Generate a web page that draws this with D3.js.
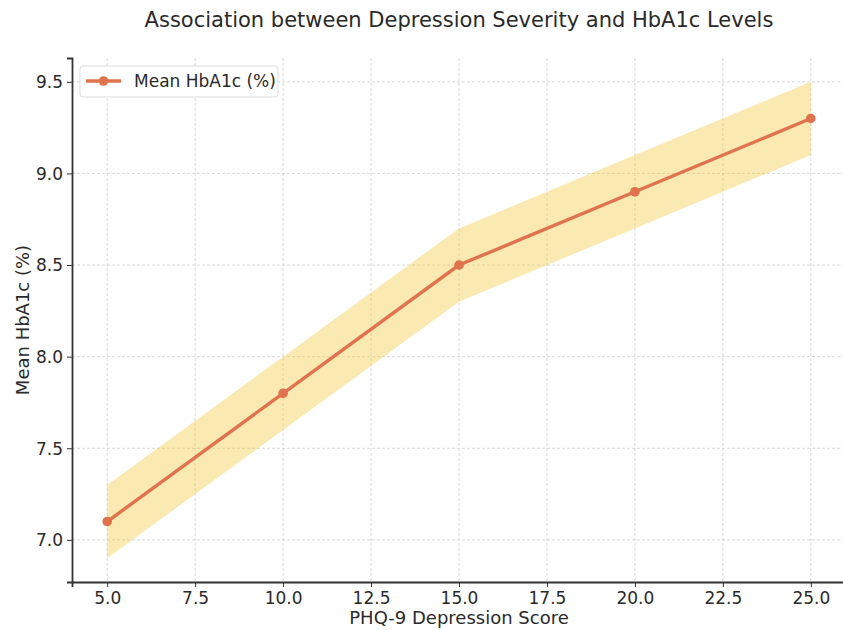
<!DOCTYPE html>
<html><head><meta charset="utf-8">
<script src="https://cdn.jsdelivr.net/npm/d3@7"></script>
<style>body{margin:0;background:#fff;} text{font-family:"DejaVu Sans",sans-serif;}</style>
</head><body>
<svg id="c" width="843" height="630"></svg>
<script>
const scores = [5, 10, 15, 20, 25];
const meanHbA1c = [7.1, 7.8, 8.5, 8.9, 9.3];
const lower = [6.9, 7.6, 8.3, 8.7, 9.1];
const upper = [7.3, 8.0, 8.7, 9.1, 9.5];
const xTicks = [5, 7.5, 10, 12.5, 15, 17.5, 20, 22.5, 25];
const yTicks = [7.0, 7.5, 8.0, 8.5, 9.0, 9.5];
const seriesName = "Mean HbA1c (%)";

const svg = d3.select("#c");
const m = {l:72, r:846, t:58, b:582};
const x = d3.scaleLinear().domain([4, 26]).range([m.l, m.r]);
const y = d3.scaleLinear().domain([6.77, 9.63]).range([m.b, m.t]);
const data = scores.map((s,i)=>({s, v:meanHbA1c[i], lo:lower[i], hi:upper[i]}));

// grid
const g = svg.append("g");
xTicks.forEach(t=>g.append("line").attr("x1",x(t)).attr("x2",x(t)).attr("y1",m.t).attr("y2",m.b)
  .attr("stroke","#cfcfcf").attr("stroke-width",0.8).attr("stroke-dasharray","3,2"));
yTicks.forEach(t=>g.append("line").attr("x1",m.l).attr("x2",m.r).attr("y1",y(t)).attr("y2",y(t))
  .attr("stroke","#cfcfcf").attr("stroke-width",0.8).attr("stroke-dasharray","3,2"));

// band
svg.append("path").datum(data)
  .attr("d", d3.area().x(d=>x(d.s)).y0(d=>y(d.lo)).y1(d=>y(d.hi)))
  .attr("fill","rgb(243,200,60)").attr("fill-opacity",0.4);

// line
svg.append("path").datum(data)
  .attr("d", d3.line().x(d=>x(d.s)).y(d=>y(d.v)))
  .attr("fill","none").attr("stroke","#E0724E").attr("stroke-width",3.4);
svg.selectAll("circle.pt").data(data).join("circle")
  .attr("cx",d=>x(d.s)).attr("cy",d=>y(d.v)).attr("r",4.8).attr("fill","#E0724E");

// axes
const xa = svg.append("g").attr("transform",`translate(0,${m.b})`)
  .call(d3.axisBottom(x).tickValues(xTicks).tickFormat(d3.format(".1f")).tickSizeOuter(0).tickSize(5).tickPadding(4));
const ya = svg.append("g").attr("transform",`translate(${m.l},0)`)
  .call(d3.axisLeft(y).tickValues(yTicks).tickFormat(d3.format(".1f")).tickSizeOuter(0).tickSize(5).tickPadding(4));
[xa,ya].forEach(a=>{
  a.select(".domain").attr("stroke","#333").attr("stroke-width",1.8);
  a.selectAll(".tick line").attr("stroke","#333").attr("stroke-width",1);
  a.selectAll(".tick text").attr("fill","#2a2a2a").style("font-size","17px").style("font-family","DejaVu Sans");
});
xa.selectAll(".tick text").attr("dy","0.78em");
ya.selectAll(".tick text").attr("dy","0.35em");

// labels
svg.append("text").attr("x",459).attr("y",27).attr("text-anchor","middle")
  .attr("fill","#2a2a2a").style("font-size","21px").text("Association between Depression Severity and HbA1c Levels");
svg.append("text").attr("x",459).attr("y",624).attr("text-anchor","middle")
  .attr("fill","#2a2a2a").style("font-size","18px").text("PHQ-9 Depression Score");
svg.append("text").attr("transform","translate(29,320) rotate(-90)").attr("text-anchor","middle")
  .attr("fill","#2a2a2a").style("font-size","18px").text("Mean HbA1c (%)");

// legend
const lg = svg.append("g");
lg.append("rect").attr("x",80).attr("y",66).attr("width",198).attr("height",31).attr("rx",3)
  .attr("fill","#fff").attr("fill-opacity",0.85).attr("stroke","#ddd");
lg.append("line").attr("x1",86).attr("x2",121).attr("y1",81).attr("y2",81)
  .attr("stroke","#E0724E").attr("stroke-width",3.4);
lg.append("circle").attr("cx",103.5).attr("cy",81).attr("r",4.8).attr("fill","#E0724E");
lg.append("text").attr("x",134).attr("y",87).attr("fill","#2a2a2a").style("font-size","17px").text(seriesName);
</script>
</body></html>
